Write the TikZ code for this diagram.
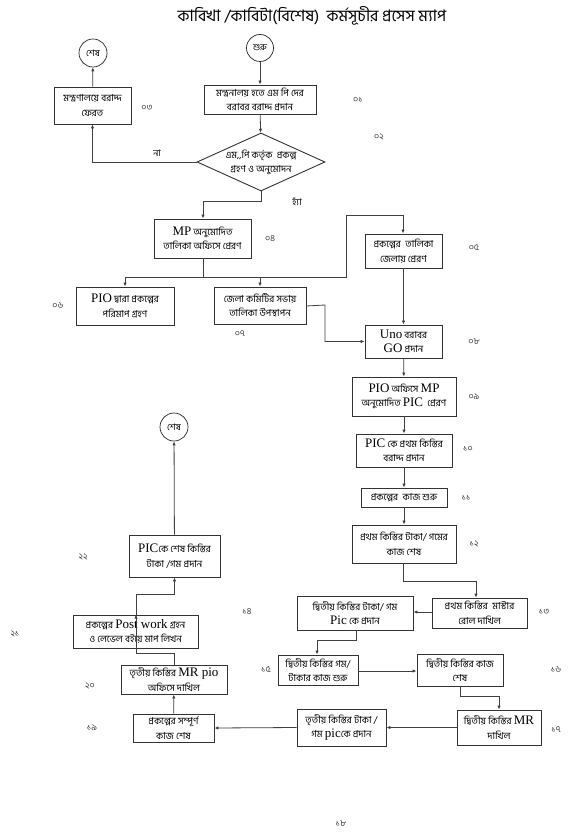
\documentclass[tikz,border=0pt]{standalone}
\usepackage{fontspec}
\usetikzlibrary{shapes.geometric,arrows.meta}
\newfontfamily\bn[Script=Bengali]{Hind Siliguri}
\newfontfamily\latf{Liberation Serif}
\newcommand\lat[1]{{\latf\fontsize{13}{12}\selectfont #1}}
\newcommand\bx[6]{\node[box,minimum width=#4pt,minimum height=#5pt] (#1) at (#2,#3) {#6};}
\newcommand\nm[3]{\node[num] at (#1,#2) {#3};}
\begin{document}
\begin{tikzpicture}[x=1pt,y=-1pt,
  box/.style={draw=black!80, line width=0.9pt, rectangle, inner sep=0pt, align=center,
    font=\bn\fontsize{9.6}{14.5}\selectfont},
  term/.style={draw=black!85, line width=0.7pt, circle, inner sep=0pt, minimum size=28pt,
    font=\bn\fontsize{9}{10}\selectfont},
  num/.style={font=\bn\fontsize{9}{10}\selectfont, text=black!75, inner sep=0pt},
  conn/.style={draw=black!75, line width=0.8pt, -{Latex[length=4pt,width=3.4pt]}},
  plain/.style={draw=black!75, line width=0.8pt}
]
\useasboundingbox (0,0) rectangle (569,834);
\fill[white] (0,0) rectangle (569,834);

\node[font=\bn\fontsize{16}{17}\selectfont, inner sep=0pt] (title) at (312,16) {কাবিখা /কাবিটা(বিশেষ)\ \ কর্মসূচীর প্রসেস ম্যাপ};

\node[term] (end1) at (93,53) {শেষ};
\node[term, minimum size=27pt] (start) at (260,48) {শুরু};
\node[term] (end2) at (174,427) {শেষ};

\bx{b03}{92.5}{105.5}{77}{37}{মন্ত্রণালয়ে বরাদ্দ\\ফেরত}
\bx{b01}{260}{99.5}{112}{29}{মন্ত্রনালয় হতে এম পি দের\\বরাবর বরাদ্দ প্রদান}
\node[draw=black!80, line width=0.9pt, diamond, aspect=2.2, inner sep=0pt,
  minimum width=128pt, minimum height=58pt] (dia) at (261,162) {};
\node[align=center, inner sep=0pt, font=\bn\fontsize{9.6}{14}\selectfont] (diatext) at (dia.center) {এম,,পি কর্তৃক\ \ প্রকল্প\\গ্রহণ ও অনুমোদন};
\bx{b04}{202.5}{238.5}{97}{39}{\lat{MP} অনুমোদিত\\তালিকা অফিসে প্রেরণ}
\bx{b05}{403.5}{251}{77}{34}{প্রকল্পের\ \ তালিকা\\জেলায় প্রেরণ}
\bx{b06}{125}{306}{98}{38}{\lat{PIO} দ্বারা প্রকল্পের\\পরিমাপ গ্রহণ}
\bx{b07}{260}{305.5}{92}{37}{জেলা কমিটির সভায়\\তালিকা উপস্থাপন}
\bx{b08}{403.5}{341.5}{77}{33}{\lat{Uno} বরাবর\\\lat{GO} প্রদান}
\bx{b09}{404}{396.5}{104}{39}{\lat{PIO} অফিসে \lat{MP}\\অনুমোদিত \lat{PIC}\ \ প্রেরণ}
\bx{b10}{404}{450.5}{96}{33}{\lat{PIC} কে প্রথম কিস্তির\\বরাদ্দ প্রদান}
\bx{b11}{404}{497.5}{86}{19}{প্রকল্পের\ \ কাজ শুরু}
\bx{b12}{404}{544}{104}{38}{প্রথম কিস্তির টাকা/ গমের\\কাজ শেষ}
\bx{b13}{479.5}{613}{95}{30}{প্রথম কিস্তির\ \ মাস্টার\\রোল দাখিল}
\bx{b14}{355}{613}{116}{34}{দ্বিতীয় কিস্তির টাকা/ গম\\\lat{Pic} কে প্রদান}
\bx{b15}{318}{670}{80}{30}{দ্বিতীয় কিস্তির গম/\\টাকার কাজ শুরু}
\bx{b16}{460}{670}{86}{32}{দ্বিতীয় কিস্তির কাজ\\শেষ}
\bx{b17}{499}{727.5}{84}{35}{দ্বিতীয় কিস্তির \lat{MR}\\দাখিল}
\bx{b18}{341.5}{727.5}{89}{37}{তৃতীয় কিস্তির টাকা /\\গম \lat{pic}কে প্রদান}
\bx{b19}{173.5}{728}{81}{28}{প্রকল্পের সম্পূর্ণ\\কাজ শেষ}
\bx{b20}{174}{679.5}{106}{29}{তৃতীয় কিস্তির \lat{MR pio}\\অফিসে দাখিল}
\bx{b21}{135.5}{631.5}{125}{33}{প্রকল্পের \lat{Post work} গ্রহন\\ও লেভেল বইয়ে মাপ লিখন}
\bx{b22}{174.5}{556}{91}{42}{\lat{PIC}কে শেষ কিস্তির\\টাকা /গম প্রদান}

% step numbers
\nm{358}{100}{০১}
\nm{379}{137}{০২}
\nm{147}{108}{০৩}
\nm{270}{239}{০৪}
\nm{474}{248}{০৫}
\nm{58}{306}{০৬}
\nm{240}{334}{০৭}
\nm{474}{342}{০৮}
\nm{474}{397}{০৯}
\nm{468}{449}{১০}
\nm{466}{498}{১১}
\nm{474}{544}{১২}
\nm{544}{612}{১৩}
\nm{247}{612}{১৪}
\nm{266}{670}{১৫}
\nm{556}{670}{১৬}
\nm{556}{730}{১৭}
\nm{341}{824}{১৮}
\nm{92}{728}{১৯}
\nm{90}{686}{২০}
\nm{15}{634}{২১}
\nm{83}{557}{২২}

\node[num, text=black] (no) at (157,153) {না};
\node[num, text=black] (yes) at (297,202) {হ্যাঁ};

% connectors
\draw[conn] (start) -- (b01);
\draw[conn] (b01) -- (dia);
\draw[conn] (dia.west) -| (b03.south);
\draw[conn] (b03) -- (end1);
\draw[conn] (dia.south) -- ++(0,10) -| ([xshift=0.5pt]b04.north);
\coordinate (J) at ([xshift=0.5pt]b04.south |- 0,277);
\draw[plain] ([xshift=0.5pt]b04.south) -- (J);
\draw[conn] (J) -| (b06.north);
\draw[conn] (J) -| (b07.north);
\draw[conn] (J) -- (346,277) -- (346,215) -| ([xshift=-0.5pt]b05.north);
\draw[conn] ([yshift=-0.5pt]b07.east) -- (325,305) |- (b08.west);
\draw[conn] (b05) -- (b08);
\draw[conn] (b08) -- (b09);
\draw[conn] (b09) -- (b10);
\draw[conn] (b10) -- (b11);
\draw[conn] (b11) -- (b12);
\draw[conn] ([xshift=-1pt]b12.south) -- ++(0,18) -| ([xshift=-3.5pt]b13.north);
\draw[conn] ([yshift=1pt]b13.west) -- ([yshift=1pt]b14.east);
\draw[conn] ([xshift=1pt]b14.south) -- ++(0,10) -| ([xshift=-1pt]b15.north);
\draw[conn] ([yshift=-1pt]b15.east) -- ([yshift=-1pt]b16.west);
\draw[conn] (b16.south) -- ++(0,10) -| (b17.north);
\draw[conn] (b17.west) -- (b18.east);
\draw[conn] (b18.west) -- (b19.east);
\draw[conn] (b19) -- (b20);
\draw[conn] (b20.north) -- ++(0,-11) -| ([xshift=0.5pt]b21.north);
\draw[conn] ([xshift=0.5pt]b21.north) -- ++(0,-20) -| (b22.south);
\draw[conn] (b22) -- (end2);
\end{tikzpicture}
\end{document}
